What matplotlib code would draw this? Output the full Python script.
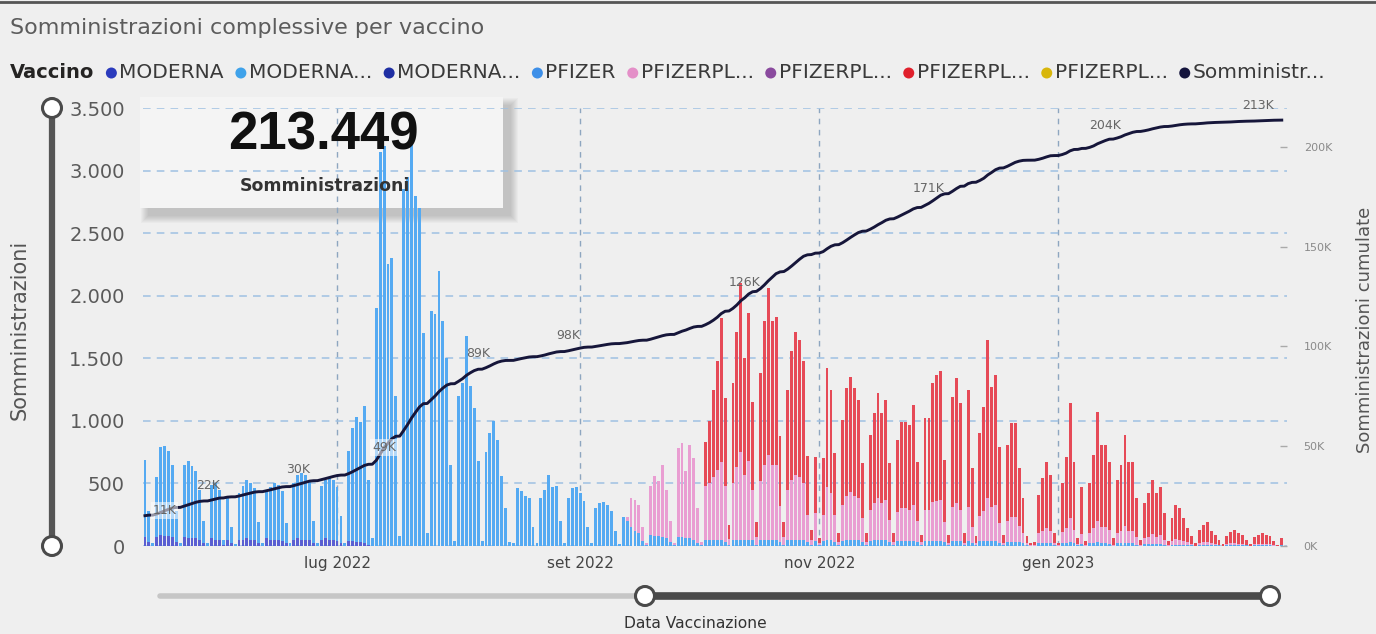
import matplotlib
matplotlib.use("Agg")
import matplotlib.pyplot as plt
import matplotlib.dates as mdates
import pandas as pd
from matplotlib.patches import Rectangle, Ellipse
from matplotlib.lines import Line2D

# ---------------- data ----------------
TITLE = "Somministrazioni complessive per vaccino"
LEGEND_TITLE = "Vaccino"
LEGEND_LABELS = ["MODERNA", "MODERNA...", "MODERNA...", "PFIZER", "PFIZERPL...",
                 "PFIZERPL...", "PFIZERPL...", "PFIZERPL...", "Somministr..."]
LEGEND_COLORS = ["#2b3bbd", "#3fa2ea", "#1f2fa3", "#3d8fe8", "#e48fc8",
                 "#8a4a9e", "#e0202c", "#d8b60b", "#14143d"]

START = "2022-05-13"          # first day (Friday)
MODERNA_START = "2022-05-13"
PINK_START = "2022-09-12"
RED_START = "2022-10-03"
CUM_BEFORE = 14500            # administrations before the first day

# PFIZER, one row per week (Mon..Sun), first row Fri..Sun
pfizer_weeks = [
    [620, 250, 20],
    [480, 700, 720, 680, 580, 250, 25],
    [580, 620, 580, 540, 400, 180, 20],
    [430, 450, 400, 40, 350, 130, 15],
    [370, 430, 470, 450, 410, 170, 20],
    [380, 420, 450, 440, 400, 160, 20],
    [450, 510, 530, 520, 470, 180, 25],
    [430, 470, 490, 480, 430, 220, 25],
    [720, 900, 1000, 960, 1100, 520, 60],
    [1900, 3150, 3200, 2250, 2300, 1200, 80],
    [2850, 2950, 3250, 2800, 2700, 1700, 100],
    [1880, 1850, 2200, 1800, 1500, 650, 40],
    [1200, 1300, 1680, 1280, 1100, 680, 40],
    [750, 900, 1000, 850, 560, 300, 30],
    [20, 460, 440, 400, 380, 150, 20],
    [380, 450, 570, 470, 480, 200, 20],
    [380, 460, 470, 420, 360, 150, 20],
    [300, 340, 350, 330, 280, 120, 15],
    [230, 200, 150, 120, 100, 40, 5],
    [90, 80, 80, 70, 60, 30, 5],
    [70, 70, 60, 60, 50, 20, 5],
    [50, 50, 50, 50, 50, 30, 5],
    [50, 50, 50, 50, 50, 50, 10],
    [50, 50, 50, 50, 50, 30, 10],
    [50, 50, 50, 50, 50, 30, 10],
    [40, 5, 40, 50, 50, 30, 5],
    [40, 50, 50, 50, 50, 30, 5],
    [40, 50, 50, 50, 50, 30, 5],
    [40, 40, 40, 40, 40, 30, 5],
    [40, 40, 40, 40, 40, 30, 5],
    [40, 40, 40, 5, 40, 20, 5],
    [40, 40, 40, 40, 40, 20, 5],
    [30, 30, 30, 30, 20, 5, 0],
    [0, 20, 20, 20, 20, 5, 0],
    [20, 20, 30, 20, 5, 15, 0],
    [20, 20, 30, 20, 20, 15, 0],
    [20, 20, 20, 20, 20, 10, 0],
    [15, 15, 15, 15, 15, 10, 0],
    [10, 10, 10, 10, 10, 5, 0],
    [10, 10, 10, 5, 5, 5, 0],
    [5, 5, 5, 5, 5, 5, 0],
    [5, 5, 5, 5, 5, 0, 0],
    [5],
]

moderna_weeks = [
    [70, 30, 0],
    [70, 90, 80, 80, 70, 30, 0],
    [70, 60, 60, 60, 50, 20, 0],
    [60, 50, 50, 10, 50, 20, 0],
    [50, 50, 60, 50, 50, 20, 0],
    [60, 50, 50, 50, 40, 20, 0],
    [50, 60, 50, 50, 50, 20, 0],
    [50, 60, 50, 50, 40, 20, 0],
    [40, 40, 30, 30, 20, 10, 0],
]

pink_weeks = [
    [0, 30, 230, 250, 230, 110, 15],
    [390, 480, 440, 580, 390, 170, 15],
    [710, 750, 540, 750, 650, 280, 25],
    [430, 450, 500, 560, 620, 450, 50],
    [450, 580, 700, 520, 630, 400, 60],
    [470, 600, 680, 600, 600, 290, 60],
    [400, 480, 520, 500, 450, 220, 40],
    [220, 15, 210, 420, 370, 220, 30],
    [290, 350, 380, 350, 330, 190, 30],
    [250, 290, 330, 290, 320, 180, 25],
    [230, 260, 260, 250, 290, 170, 25],
    [250, 250, 310, 320, 330, 160, 20],
    [270, 300, 250, 20, 270, 130, 15],
    [200, 240, 340, 270, 290, 160, 20],
    [170, 200, 200, 130, 80, 15, 5],
    [5, 80, 100, 120, 100, 20, 5],
    [90, 120, 190, 110, 10, 80, 5],
    [85, 120, 170, 130, 130, 110, 10],
    [80, 100, 140, 100, 100, 60, 5],
    [50, 60, 80, 60, 70, 40, 5],
    [30, 45, 40, 30, 20, 10, 0],
    [15, 20, 20, 15, 10, 5, 0],
    [10, 15, 15, 10, 10, 5, 0],
    [10, 10, 10, 10, 10, 5, 0],
    [5],
]

red_weeks = [
    [350, 500, 700, 870, 1150, 700, 110],
    [800, 1080, 1350, 930, 1180, 700, 120],
    [860, 1150, 1330, 1150, 1180, 560, 120],
    [800, 1030, 1140, 1100, 980, 470, 80],
    [450, 40, 450, 950, 830, 490, 65],
    [680, 860, 920, 860, 790, 440, 65],
    [600, 720, 840, 720, 800, 450, 70],
    [580, 690, 690, 680, 800, 470, 60],
    [730, 730, 950, 1010, 1030, 500, 65],
    [880, 1000, 850, 75, 940, 470, 60],
    [660, 830, 1265, 960, 1040, 610, 65],
    [610, 750, 750, 460, 280, 60, 15],
    [25, 310, 420, 530, 450, 75, 15],
    [390, 570, 920, 540, 45, 375, 35],
    [395, 590, 870, 660, 660, 545, 50],
    [430, 530, 730, 550, 550, 310, 45],
    [275, 345, 435, 345, 385, 210, 35],
    [180, 275, 250, 180, 110, 65, 20],
    [105, 140, 160, 100, 75, 40, 15],
    [65, 90, 110, 85, 75, 40, 15],
    [55, 75, 85, 75, 65, 35, 10],
    [50],
]

LINE_LABEL_DATES = ["2022-05-18", "2022-05-29", "2022-06-21", "2022-07-13", "2022-08-06",
                    "2022-08-29", "2022-10-13", "2022-11-29", "2023-01-13", "2023-02-21"]
LINE_LABEL_TEXTS = ["11K", "22K", "30K", "49K", "89K", "98K", "126K", "171K", "204K", "213K"]

CARD_VALUE = "213.449"
CARD_LABEL = "Somministrazioni"

YTICKS = [0, 500, 1000, 1500, 2000, 2500, 3000, 3500]
YTICK_LABELS = ["0", "500", "1.000", "1.500", "2.000", "2.500", "3.000", "3.500"]
Y2TICKS = [0, 50000, 100000, 150000, 200000]
Y2TICK_LABELS = ["0K", "50K", "100K", "150K", "200K"]
XTICK_DATES = ["2022-07-01", "2022-09-01", "2022-11-01", "2023-01-01"]
XTICK_LABELS = ["lug 2022", "set 2022", "nov 2022", "gen 2023"]
YLABEL = "Somministrazioni"
Y2LABEL = "Somministrazioni cumulate"
XLABEL = "Data Vaccinazione"

# ---------------- build series ----------------
def series(weeks, start, index):
    vals = [v for w in weeks for v in w]
    s = pd.Series(vals, index=pd.date_range(start, periods=len(vals), freq="D"))
    return s.reindex(index, fill_value=0)

n_days = sum(len(w) for w in pfizer_weeks)
days = pd.date_range(START, periods=n_days, freq="D")
pfizer = series(pfizer_weeks, START, days)
moderna = series(moderna_weeks, MODERNA_START, days)
pink = series(pink_weeks, PINK_START, days)
red = series(red_weeks, RED_START, days)
total = moderna + pfizer + pink + red
cum = CUM_BEFORE + total.cumsum()

# ---------------- figure ----------------
W, H, DPI = 1376, 634, 100
plt.rcParams["font.family"] = ["DejaVu Sans"]
fig = plt.figure(figsize=(W / DPI, H / DPI), dpi=DPI)
fig.patch.set_facecolor("#efefef")

def fx(px):
    return px / W

def fy(py):
    return 1 - py / H

AX_L, AX_R, AX_T, AX_B = 143, 1287, 108, 546
ax = fig.add_axes([fx(AX_L), fy(AX_B), (AX_R - AX_L) / W, (AX_B - AX_T) / H])
ax.set_facecolor("none")

x = mdates.date2num(days)
day_px = 3.92
x0 = mdates.date2num(pd.Timestamp(START)) - 0.5
ax.set_xlim(x0, x0 + (AX_R - AX_L) / day_px)

bw = 0.74
ax.bar(x, moderna.values, width=bw, color="#5a5fd2", linewidth=0, zorder=2)
ax.bar(x, pfizer.values, bottom=moderna.values, width=bw, color="#55aaf2", linewidth=0, zorder=2)
b2 = (moderna + pfizer).values
ax.bar(x, pink.values, bottom=b2, width=bw, color="#e99ed2", linewidth=0, zorder=2)
b3 = (moderna + pfizer + pink).values
ax.bar(x, red.values, bottom=b3, width=bw, color="#e64a57", linewidth=0, zorder=2)

ax.set_ylim(0, 3500)
ax.set_yticks(YTICKS)
ax.set_yticklabels(YTICK_LABELS)
ax.set_xticks(mdates.date2num(pd.to_datetime(XTICK_DATES)))
ax.set_xticklabels(XTICK_LABELS)
ax.tick_params(axis="y", length=0, pad=13, labelsize=14, labelcolor="#5a5a5a")
ax.tick_params(axis="x", length=0, pad=7, labelsize=11, labelcolor="#444444")
for sp in ax.spines.values():
    sp.set_visible(False)
ax.yaxis.grid(True, color="#9fc1e2", linewidth=1.1, linestyle=(0, (5, 4)), zorder=1)
ax.xaxis.grid(True, color="#8ea6c0", linewidth=1.0, linestyle=(0, (4, 4)), zorder=1)
ax.set_axisbelow(True)

ax2 = ax.twinx()
ax2.set_facecolor("none")
ax2.set_ylim(0, 219500)
ax2.plot(x, cum.values, color="#16163a", linewidth=2.1, zorder=4)
ax2.set_yticks(Y2TICKS)
ax2.set_yticklabels(Y2TICK_LABELS)
ax2.tick_params(axis="y", direction="in", length=5, width=1, color="#aaaaaa",
                pad=12, labelsize=8, labelcolor="#8a8a8a")
for sp in ax2.spines.values():
    sp.set_visible(False)

for d, t in zip(LINE_LABEL_DATES, LINE_LABEL_TEXTS):
    xd = mdates.date2num(pd.Timestamp(d))
    yd = cum.loc[pd.Timestamp(d)]
    if t in ("11K", "49K"):
        ax2.annotate(t, (xd, yd), xytext=(0, 0), textcoords="offset points",
                     ha="center", va="center", fontsize=9, color="#666666", zorder=6,
                     bbox=dict(boxstyle="square,pad=0.15", fc="white", ec="none", alpha=0.55))
    else:
        ax2.annotate(t, (xd, yd), xytext=(0, 11), textcoords="offset points",
                     ha="center", va="center", fontsize=9, color="#666666", zorder=6)

# ---------------- card ----------------
cx0, cy0, cx1, cy1 = 140, 97, 503, 208
for k in range(8):
    s = k * 1.0
    fig.add_artist(Rectangle((fx(cx0 + 8 - s), fy(cy1 + 8 + s)),
                             (cx1 - cx0 + 2 * s) / W, (cy1 - cy0 + 2 * s) / H,
                             transform=fig.transFigure, facecolor="black",
                             alpha=0.025, edgecolor="none", zorder=-2))
fig.add_artist(Rectangle((fx(cx0), fy(cy1)), (cx1 - cx0) / W, (cy1 - cy0) / H,
                         transform=fig.transFigure, facecolor="#f4f4f4",
                         edgecolor="none", zorder=-1))
fig.text(fx(323), fy(136), CARD_VALUE, ha="center", va="center", fontsize=38,
         fontweight="bold", family="Liberation Sans", color="#111111", zorder=10)
fig.text(fx(325), fy(186), CARD_LABEL, ha="center", va="center", fontsize=12.5,
         fontweight="bold", color="#333333", zorder=10)

# ---------------- titles / labels ----------------
fig.text(fx(10), fy(28), TITLE, ha="left", va="center", fontsize=16, color="#5c5c5c")
fig.text(fx(20), fy(330), YLABEL, rotation=90, ha="center", va="center",
         fontsize=15, color="#555555")
fig.text(fx(1365), fy(330), Y2LABEL, rotation=90, ha="center", va="center",
         fontsize=13, color="#555555")
fig.text(fx(695), fy(624), XLABEL, ha="center", va="center", fontsize=11.2, color="#333333")

# legend row
fig.canvas.draw()
renderer = fig.canvas.get_renderer()
ly = fy(73)
t = fig.text(fx(10), ly, LEGEND_TITLE, ha="left", va="center", fontsize=14,
             fontweight="bold", color="#252423")
xe = t.get_window_extent(renderer).x1
for lab, col in zip(LEGEND_LABELS, LEGEND_COLORS):
    cxp = xe + 17
    fig.add_artist(Ellipse((fx(cxp), ly), 11 / W, 11 / H, transform=fig.transFigure,
                           facecolor=col, edgecolor="none"))
    tt = fig.text(fx(cxp + 8), ly, lab, ha="left", va="center", fontsize=14.5,
                  color="#3a3a3a")
    xe = tt.get_window_extent(renderer).x1

# ---------------- slicer controls ----------------
fig.add_artist(Line2D([fx(0), fx(W)], [fy(2), fy(2)], transform=fig.transFigure,
                      color="#555555", linewidth=2))
fig.add_artist(Line2D([fx(52), fx(52)], [fy(108), fy(546)], transform=fig.transFigure,
                      color="#555555", linewidth=4.5, solid_capstyle="butt"))
fig.add_artist(Line2D([fx(160), fx(645)], [fy(596), fy(596)], transform=fig.transFigure,
                      color="#c6c6c6", linewidth=4, solid_capstyle="round"))
fig.add_artist(Line2D([fx(645), fx(1270)], [fy(596), fy(596)], transform=fig.transFigure,
                      color="#4a4a4a", linewidth=5.5, solid_capstyle="butt"))
for (px, py) in [(52, 108), (52, 546), (645, 596), (1270, 596)]:
    fig.add_artist(Ellipse((fx(px), fy(py)), 19 / W, 19 / H, transform=fig.transFigure,
                           facecolor="white", edgecolor="#4a4a4a", linewidth=2.2, zorder=5))

fig.savefig("out.png", dpi=DPI, facecolor=fig.get_facecolor())
